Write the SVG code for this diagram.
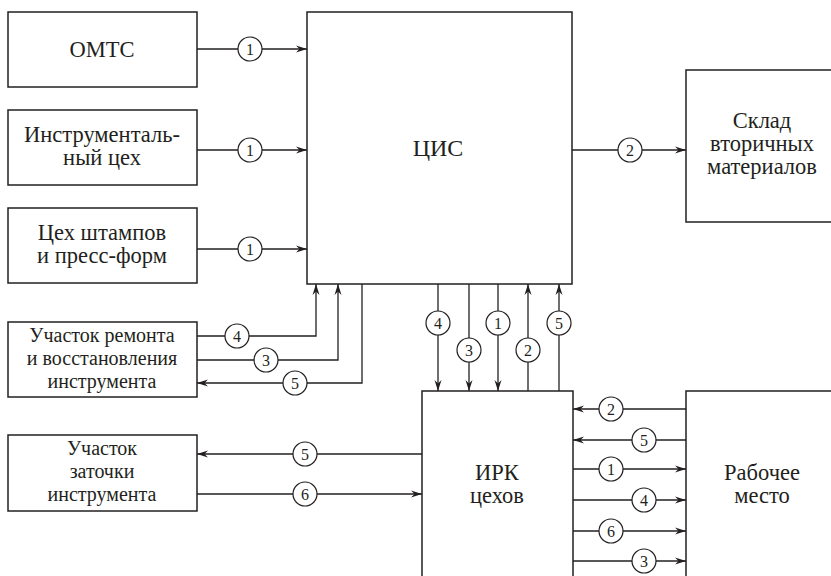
<svg xmlns="http://www.w3.org/2000/svg" width="831" height="576" viewBox="0 0 831 576">
<defs>
<style>
.box{fill:#fff;stroke:#231f20;stroke-width:1.5}
.ln{fill:none;stroke:#231f20;stroke-width:1.3}
.c{fill:#fff;stroke:#231f20;stroke-width:1.2}
text{font-family:'Liberation Serif','DejaVu Serif',serif;fill:#231f20;text-anchor:middle}
.t{font-size:22.5px}
.s{font-size:20px}
.n{font-size:16px}
</style>
<marker id="a" markerWidth="12" markerHeight="8" refX="11" refY="4" orient="auto" markerUnits="userSpaceOnUse">
<path d="M0,0.5 L11,4 L0,7.5 L3.5,4 Z" fill="#231f20"/>
</marker>
</defs>
<rect width="831" height="576" fill="#fff"/>
<g id="connectors">
<path class="ln" d="M197,49 H307" marker-end="url(#a)"/>
<path class="ln" d="M197,150 H307" marker-end="url(#a)"/>
<path class="ln" d="M197,249 H307" marker-end="url(#a)"/>
<path class="ln" d="M572,150 H686" marker-end="url(#a)"/>
<path class="ln" d="M197,336 H316 V284" marker-end="url(#a)"/>
<path class="ln" d="M197,360 H338 V284" marker-end="url(#a)"/>
<path class="ln" d="M362,284 V383 H197" marker-end="url(#a)"/>
<path class="ln" d="M438,284 V391" marker-end="url(#a)"/>
<path class="ln" d="M469,284 V391" marker-end="url(#a)"/>
<path class="ln" d="M498,284 V391" marker-end="url(#a)"/>
<path class="ln" d="M528,391 V284" marker-end="url(#a)"/>
<path class="ln" d="M559,391 V284" marker-end="url(#a)"/>
<path class="ln" d="M422,454 H197" marker-end="url(#a)"/>
<path class="ln" d="M197,494 H422" marker-end="url(#a)"/>
<path class="ln" d="M686,409 H573" marker-end="url(#a)"/>
<path class="ln" d="M686,440 H573" marker-end="url(#a)"/>
<path class="ln" d="M573,469 H686" marker-end="url(#a)"/>
<path class="ln" d="M573,500 H686" marker-end="url(#a)"/>
<path class="ln" d="M573,531 H686" marker-end="url(#a)"/>
<path class="ln" d="M573,561 H686" marker-end="url(#a)"/>
<circle class="c" cx="250" cy="49" r="12"/><text class="n" x="250" y="55">1</text>
<circle class="c" cx="250" cy="150" r="12"/><text class="n" x="250" y="156">1</text>
<circle class="c" cx="250" cy="249" r="12"/><text class="n" x="250" y="255">1</text>
<circle class="c" cx="630" cy="150" r="12"/><text class="n" x="630" y="156">2</text>
<circle class="c" cx="237" cy="336" r="12"/><text class="n" x="237" y="342">4</text>
<circle class="c" cx="266" cy="360" r="12"/><text class="n" x="266" y="366">3</text>
<circle class="c" cx="295" cy="383" r="12"/><text class="n" x="295" y="389">5</text>
<circle class="c" cx="438" cy="323" r="12"/><text class="n" x="438" y="329">4</text>
<circle class="c" cx="469" cy="350" r="12"/><text class="n" x="469" y="356">3</text>
<circle class="c" cx="498" cy="323" r="12"/><text class="n" x="498" y="329">1</text>
<circle class="c" cx="528" cy="350" r="12"/><text class="n" x="528" y="356">2</text>
<circle class="c" cx="559" cy="323" r="12"/><text class="n" x="559" y="329">5</text>
<circle class="c" cx="305" cy="454" r="12"/><text class="n" x="305" y="460">5</text>
<circle class="c" cx="305" cy="494" r="12"/><text class="n" x="305" y="500">6</text>
<circle class="c" cx="611" cy="409" r="12"/><text class="n" x="611" y="415">2</text>
<circle class="c" cx="644" cy="440" r="12"/><text class="n" x="644" y="446">5</text>
<circle class="c" cx="611" cy="469" r="12"/><text class="n" x="611" y="475">1</text>
<circle class="c" cx="644" cy="500" r="12"/><text class="n" x="644" y="506">4</text>
<circle class="c" cx="611" cy="531" r="12"/><text class="n" x="611" y="537">6</text>
<circle class="c" cx="644" cy="561" r="12"/><text class="n" x="644" y="567">3</text>
</g>
<g id="omts"><rect class="box" x="8" y="12" width="189" height="75"/><text class="t" x="102" y="57">ОМТС</text></g>
<g id="instr"><rect class="box" x="8" y="110" width="189" height="75"/><text class="t" x="102" y="142">Инструменталь-</text><text class="t" x="102" y="165">ный цех</text></g>
<g id="shtamp"><rect class="box" x="8" y="208" width="189" height="75"/><text class="t" x="102" y="240">Цех штампов</text><text class="t" x="102" y="263">и пресс-форм</text></g>
<g id="remont"><rect class="box" x="8" y="322" width="189" height="75"/><text class="s" x="102" y="342">Участок ремонта</text><text class="s" x="102" y="365">и восстановления</text><text class="s" x="102" y="388">инструмента</text></g>
<g id="zatochka"><rect class="box" x="8" y="435" width="189" height="76"/><text class="s" x="102" y="455">Участок</text><text class="s" x="102" y="478">заточки</text><text class="s" x="102" y="501">инструмента</text></g>
<g id="cis"><rect class="box" x="307" y="12" width="265" height="272"/><text class="t" x="438" y="156" style="font-size:24px">ЦИС</text></g>
<g id="sklad"><rect class="box" x="686" y="70" width="150" height="152"/><text class="t" x="762" y="128">Склад</text><text class="t" x="762" y="151">вторичных</text><text class="t" x="762" y="174">материалов</text></g>
<g id="irk"><rect class="box" x="422" y="391" width="151" height="200"/><text class="t" x="497" y="480">ИРК</text><text class="t" x="497" y="503">цехов</text></g>
<g id="rabochee"><rect class="box" x="686" y="391" width="150" height="200"/><text class="t" x="762" y="480">Рабочее</text><text class="t" x="762" y="503">место</text></g>
</svg>
